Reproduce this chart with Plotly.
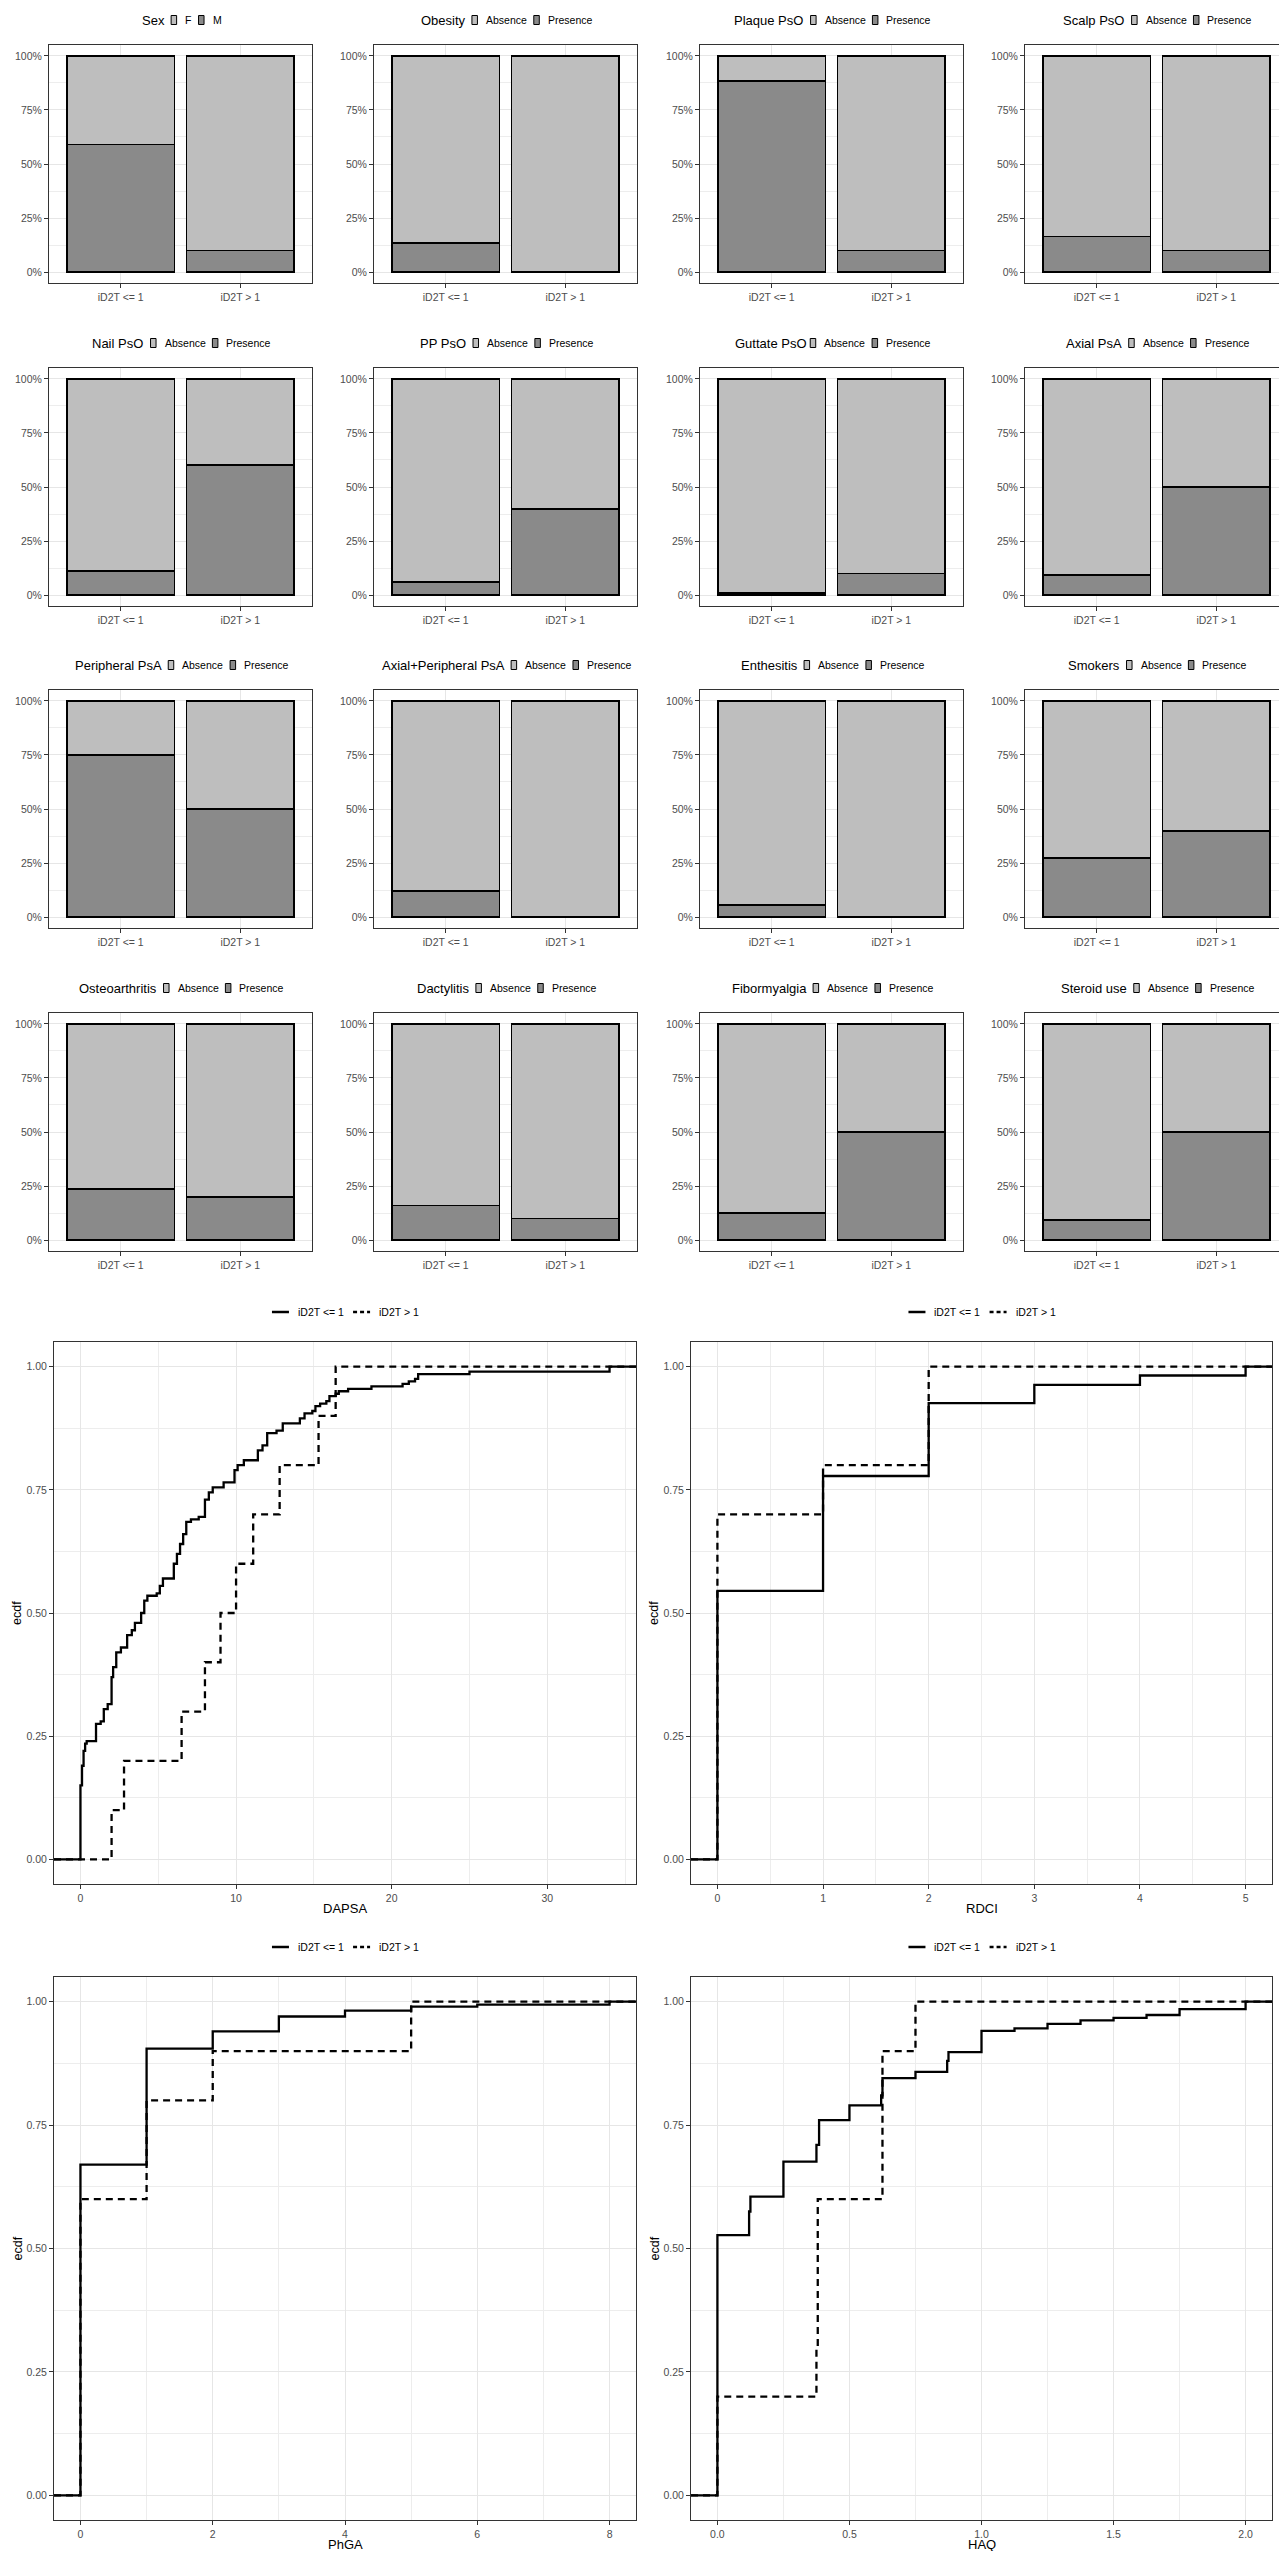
import plotly.graph_objects as go

W, H = 1287, 2551

# ---------------- data ----------------
groups = ["iD2T <= 1", "iD2T > 1"]

variables = ["Sex", "Obesity", "Plaque PsO", "Scalp PsO",
             "Nail PsO", "PP PsO", "Guttate PsO", "Axial PsA",
             "Peripheral PsA", "Axial+Peripheral PsA", "Enthesitis", "Smokers",
             "Osteoarthritis", "Dactylitis", "Fibormyalgia", "Steroid use"]
level_first = ["F"] + ["Absence"] * 15
level_second = ["M"] + ["Presence"] * 15

# % of second level (dark, bottom) per group
second_le1 = [59, 13.5, 88.5, 16.5, 11, 6, 1, 9.5, 75, 12, 5.5, 27.5, 23.5, 16, 12.5, 9.5]
second_gt1 = [10, 0, 10, 10, 60, 40, 10, 50, 50, 0, 0, 40, 20, 10, 50, 50]
# % of first level (light, top) per group
first_le1 = [41, 86.5, 11.5, 83.5, 89, 94, 99, 90.5, 25, 88, 94.5, 72.5, 76.5, 84, 87.5, 90.5]
first_gt1 = [90, 100, 90, 90, 40, 60, 90, 50, 50, 100, 100, 60, 80, 90, 50, 50]

# ECDF step points (value, cumulative proportion)
dapsa_x_le1 = [0, 0.1, 0.2, 0.3, 0.4, 1.0, 1.3, 1.5, 1.75, 2.0, 2.1, 2.3, 2.6, 3.0, 3.3, 3.5,
               3.9, 4.1, 4.3, 4.9, 5.1, 5.3, 6.0, 6.2, 6.4, 6.6, 6.8, 7.1, 7.6, 8.0, 8.25,
               8.5, 9.2, 9.9, 10.1, 10.5, 11.4, 11.7, 12.0, 12.6, 13.0, 14.1, 14.4, 14.9,
               15.1, 15.4, 15.8, 16.0, 16.4, 16.6, 17.2, 18.7, 20.7, 21.1, 21.5, 21.7, 25.0, 34.0]
dapsa_y_le1 = [0.15, 0.19, 0.22, 0.235, 0.24, 0.275, 0.28, 0.305, 0.315, 0.37, 0.39, 0.42,
               0.43, 0.455, 0.465, 0.48, 0.50, 0.525, 0.535, 0.54, 0.555, 0.57, 0.60, 0.62,
               0.64, 0.66, 0.685, 0.69, 0.695, 0.73, 0.745, 0.755, 0.765, 0.79, 0.80, 0.81,
               0.83, 0.84, 0.865, 0.87, 0.885, 0.895, 0.905, 0.91, 0.92, 0.925, 0.93, 0.94,
               0.945, 0.95, 0.955, 0.96, 0.965, 0.97, 0.975, 0.985, 0.99, 1.0]
dapsa_x_gt1 = [2.0, 2.8, 6.5, 8.0, 9.0, 10.0, 11.1, 12.8, 15.3, 16.4]
dapsa_y_gt1 = [0.1, 0.2, 0.3, 0.4, 0.5, 0.6, 0.7, 0.8, 0.9, 1.0]

rdci_x_le1 = [0, 1, 2, 3, 4, 5]
rdci_y_le1 = [0.545, 0.778, 0.926, 0.963, 0.982, 1.0]
rdci_x_gt1 = [0, 1, 2]
rdci_y_gt1 = [0.7, 0.8, 1.0]

phga_x_le1 = [0, 1, 2, 3, 4, 5, 6, 8]
phga_y_le1 = [0.67, 0.905, 0.94, 0.97, 0.982, 0.99, 0.994, 1.0]
phga_x_gt1 = [0, 1, 2, 5]
phga_y_gt1 = [0.6, 0.8, 0.9, 1.0]

haq_x_le1 = [0, 0.12, 0.125, 0.25, 0.375, 0.385, 0.5, 0.62, 0.625, 0.75, 0.87, 0.875,
             1.0, 1.125, 1.25, 1.375, 1.5, 1.625, 1.75, 2.0]
haq_y_le1 = [0.527, 0.575, 0.605, 0.676, 0.71, 0.76, 0.79, 0.81, 0.845, 0.858, 0.88, 0.898,
             0.941, 0.946, 0.955, 0.962, 0.967, 0.973, 0.985, 1.0]
haq_x_gt1 = [0, 0.375, 0.38, 0.625, 0.75]
haq_y_gt1 = [0.2, 0.3, 0.6, 0.9, 1.0]

ecdf_titles = ["DAPSA", "RDCI", "PhGA", "HAQ"]
ecdf_data = [(dapsa_x_le1, dapsa_y_le1, dapsa_x_gt1, dapsa_y_gt1),
             (rdci_x_le1, rdci_y_le1, rdci_x_gt1, rdci_y_gt1),
             (phga_x_le1, phga_y_le1, phga_x_gt1, phga_y_gt1),
             (haq_x_le1, haq_y_le1, haq_x_gt1, haq_y_gt1)]
ecdf_dtick = [10, 1, 2, 0.5]
ecdf_fmt = ["d", "d", "d", ".1f"]

# ---------------- styling ----------------
FONT = "Liberation Sans, Arial, Helvetica, sans-serif"
LIGHT = "#BEBEBE"
DARK = "#8A8A8A"
GRID = "#E6E6E6"
MINOR = "#EDEDED"
FRAME = "#333333"
TICKTXT = "#4D4D4D"
DASH = "7px,5px"

# Arial / Liberation Sans advance widths (per 1000 em) for legend layout
_AW = {' ': 278, '+': 584, '<': 584, '=': 584, '>': 584, '%': 889, '.': 278,
       'A': 667, 'D': 722, 'E': 667, 'F': 611, 'M': 833, 'N': 722, 'O': 778, 'P': 667,
       'S': 667, 'T': 611, 'a': 556, 'b': 556, 'c': 500, 'd': 556, 'e': 556, 'f': 278,
       'g': 556, 'h': 556, 'i': 222, 'l': 222, 'm': 833, 'n': 556, 'o': 556, 'p': 556,
       'q': 556, 'r': 333, 's': 500, 't': 278, 'u': 556, 'x': 500, 'y': 500, 'k': 500}


def tw(s, size):
    return sum(_AW.get(ch, 556) for ch in s) * size / 1000.0


def px(x):
    return x / W


def py(y):
    return 1 - y / H


def xdom(l, r):
    return [l / W, r / W]


def ydom(t, b):
    return [1 - b / H, 1 - t / H]


def ax_name(k, axis):
    return axis if k == 1 else f"{axis}{k}"


fig = go.Figure()
annotations = []
shapes = []
layout = dict(width=W, height=H, margin=dict(l=0, r=0, t=0, b=0),
              paper_bgcolor="white", plot_bgcolor="white",
              barmode="stack", bargap=0.1, showlegend=False,
              font=dict(family=FONT, color=TICKTXT, size=10))

col_left = [41, 366, 692, 1017]
pw = 263
row_top = [37, 360, 682, 1005]
ph = 238

TITLE_SIZE = 13
LAB_SIZE = 10.5

common_axis = dict(showline=True, mirror=True, linecolor=FRAME, linewidth=1,
                   ticks="outside", ticklen=4, tickcolor=FRAME, tickwidth=1,
                   zeroline=False, gridcolor=GRID, gridwidth=1.2, showgrid=True,
                   tickfont=dict(family=FONT, size=10.5, color=TICKTXT))


def text_ann(x, y, s, size, color="black", xanchor="left", textangle=0):
    annotations.append(dict(x=px(x), y=py(y), xref="paper", yref="paper", text=s,
                            showarrow=False, xanchor=xanchor, yanchor="middle",
                            borderpad=0, textangle=textangle,
                            font=dict(family=FONT, size=size, color=color)))


for i, var in enumerate(variables):
    k = i + 1
    r, c = divmod(i, 4)
    l = col_left[c]
    t = row_top[r]
    xa, ya = ax_name(k, "x"), ax_name(k, "y")
    fig.add_trace(go.Bar(x=groups, y=[second_le1[i], second_gt1[i]], name=level_second[i],
                         marker=dict(color=DARK, line=dict(color="black", width=1.8)),
                         xaxis=xa, yaxis=ya, hoverinfo="skip"))
    fig.add_trace(go.Bar(x=groups, y=[first_le1[i], first_gt1[i]], name=level_first[i],
                         marker=dict(color=LIGHT, line=dict(color="black", width=1.8)),
                         xaxis=xa, yaxis=ya, hoverinfo="skip"))
    layout["xaxis" if k == 1 else f"xaxis{k}"] = dict(
        common_axis, domain=xdom(l, l + pw), anchor=ya, type="category",
        range=[-0.6, 1.6])
    layout["yaxis" if k == 1 else f"yaxis{k}"] = dict(
        common_axis, domain=ydom(t, t + ph), anchor=xa, range=[-5, 105],
        tickvals=[0, 25, 50, 75, 100], ticktext=["0%", "25%", "50%", "75%", "100%"],
        minor=dict(tickvals=[12.5, 37.5, 62.5, 87.5], showgrid=True,
                   gridcolor=MINOR, gridwidth=0.8, ticks=""))
    # legend (title + two keys) above the panel
    kw, g1, g2 = 5.5, 8, 7.5
    total = (tw(var, TITLE_SIZE) + g1 + kw + g2 + tw(level_first[i], LAB_SIZE) + g1 + kw + g2
             + tw(level_second[i], LAB_SIZE))
    yc = t - 25
    x0 = l + pw / 2 - total / 2
    text_ann(x0, yc, var, TITLE_SIZE)
    xk = x0 + tw(var, TITLE_SIZE) + g1
    for lab, col in [(level_first[i], LIGHT), (level_second[i], DARK)]:
        shapes.append(dict(type="rect", xref="paper", yref="paper",
                           x0=px(xk), x1=px(xk + kw), y0=py(yc + 4.5), y1=py(yc - 4.5),
                           fillcolor=col, line=dict(color="black", width=1)))
        text_ann(xk + kw + g2, yc, lab, LAB_SIZE)
        xk = xk + kw + g2 + tw(lab, LAB_SIZE) + g1

# ECDF panels
ecol = [(46, 628), (683, 1264)]
erow = [(1334, 1876), (1969, 2512)]
for j, title in enumerate(ecdf_titles):
    k = 17 + j
    r, c = divmod(j, 2)
    l, rr = ecol[c]
    t, b = erow[r]
    xa, ya = ax_name(k, "x"), ax_name(k, "y")
    x1, y1, x2, y2 = ecdf_data[j]
    lo = min(min(x1), min(x2))
    hi = max(max(x1), max(x2))
    pad = (hi - lo) * 0.05
    rng = [lo - pad, hi + pad]
    for xs, ys, nm, dash in [(x1, y1, "iD2T <= 1", "solid"), (x2, y2, "iD2T > 1", DASH)]:
        fig.add_trace(go.Scatter(
            x=[rng[0]] + list(xs) + [rng[1]], y=[0] + list(ys) + [ys[-1]],
            mode="lines", line=dict(shape="hv", color="black", width=2.3, dash=dash),
            name=nm, xaxis=xa, yaxis=ya, hoverinfo="skip"))
    d = ecdf_dtick[j]
    layout[f"xaxis{k}"] = dict(
        common_axis, domain=xdom(l, rr), anchor=ya, range=rng,
        tick0=0, dtick=d, tickformat=ecdf_fmt[j],
        minor=dict(tick0=d / 2, dtick=d, showgrid=True, gridcolor=MINOR, gridwidth=0.8, ticks=""))
    layout[f"yaxis{k}"] = dict(
        common_axis, domain=ydom(t, b), anchor=xa, range=[-0.05, 1.05],
        tickvals=[0, 0.25, 0.5, 0.75, 1.0], ticktext=["0.00", "0.25", "0.50", "0.75", "1.00"],
        minor=dict(tickvals=[0.125, 0.375, 0.625, 0.875], showgrid=True,
                   gridcolor=MINOR, gridwidth=0.8, ticks=""))
    # axis titles
    text_ann((l + rr) / 2, b + 24, title, 13, xanchor="center")
    text_ann(l - 37, (t + b) / 2, "ecdf", 12.5, xanchor="center", textangle=-90)
    # legend
    klen, gk, gi = 17, 8, 10
    labs = ["iD2T <= 1", "iD2T > 1"]
    total = klen + gk + tw(labs[0], LAB_SIZE) + gi + klen + gk + tw(labs[1], LAB_SIZE)
    yc = t - 30
    xk = (l + rr) / 2 - total / 2
    for lab, dash in [(labs[0], "solid"), (labs[1], "4px,3px")]:
        shapes.append(dict(type="line", xref="paper", yref="paper",
                           x0=px(xk), x1=px(xk + klen), y0=py(yc), y1=py(yc),
                           line=dict(color="black", width=2.5, dash=dash)))
        text_ann(xk + klen + gk, yc, lab, LAB_SIZE)
        xk = xk + klen + gk + tw(lab, LAB_SIZE) + gi

layout["annotations"] = annotations
layout["shapes"] = shapes
fig.update_layout(**layout)
fig.write_html("out.html")
